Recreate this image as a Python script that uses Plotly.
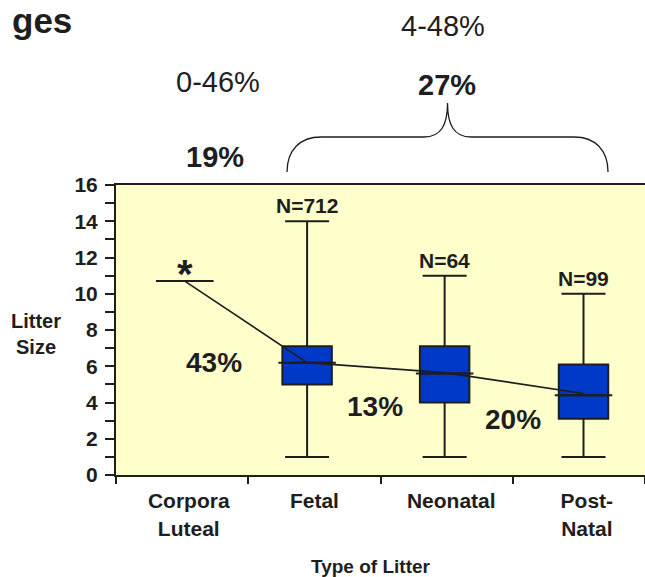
import plotly.graph_objects as go

# ---------------- data ----------------
categories = ["Corpora<br>Luteal", "Fetal", "Neonatal", "Post-<br>Natal"]
box_names = ["Fetal", "Neonatal", "Post-Natal"]
whisker_low = [1, 1, 1]
q1 = [5.0, 4.0, 3.1]
median = [6.2, 5.6, 4.4]
q3 = [7.1, 7.1, 6.1]
whisker_high = [14, 11, 10]
n_labels = ["N=712", "N=64", "N=99"]
corpora_luteal = 10.7
mean_trend = [10.7, 6.2, 5.65, 4.5]
step_pct = ["43%", "13%", "20%"]
range_labels = ["0-46%", "4-48%"]
avg_labels = ["19%", "27%"]
y_ticks = list(range(0, 17))

# ---------------- style / layout ----------------
W, H = 645, 577
ML, MT, MB, MR = 116, 185, 102, 0
PW, PH = W - ML - MR, H - MT - MB
DARK = "#1e1e1e"
BLUE = "#0038C8"
BG = "#FFFFCC"
FONT = "Liberation Sans"

x_nudge = [0.02, -0.055, -0.015, 0.035]
label_nudge = [0.05, 0.0, 0.035, 0.06]
cat_x = [i + 0.5 + x_nudge[i] for i in range(len(categories))]
box_x = cat_x[1:]
BOX_W, CAP_W, MED_W, CL_W = 0.374, 0.333, 0.435, 0.436


def px2paper(px, py):
    return (px - ML) / PW, (H - MB - py) / PH


fig = go.Figure()

fig.add_trace(go.Box(
    x=box_x, q1=q1, median=median, q3=q3,
    lowerfence=whisker_low, upperfence=whisker_high,
    width=BOX_W, fillcolor=BLUE, line=dict(color=DARK, width=2),
    whiskerwidth=0, boxpoints=False, showlegend=False, name="",
    hoverinfo="skip",
))

# whisker caps and extended median lines
seg_x, seg_y = [], []
for bx, lo, hi, md in zip(box_x, whisker_low, whisker_high, median):
    for val, w in ((lo, CAP_W), (hi, CAP_W), (md, MED_W)):
        seg_x += [bx - w / 2, bx + w / 2, None]
        seg_y += [val, val, None]
# corpora luteal line
seg_x += [cat_x[0] - CL_W / 2, cat_x[0] + CL_W / 2, None]
seg_y += [corpora_luteal, corpora_luteal, None]
fig.add_trace(go.Scatter(x=seg_x, y=seg_y, mode="lines",
                         line=dict(color=DARK, width=2), showlegend=False,
                         hoverinfo="skip"))

# trend line
fig.add_trace(go.Scatter(x=cat_x, y=mean_trend, mode="lines",
                         line=dict(color=DARK, width=1.6), showlegend=False,
                         hoverinfo="skip"))

ann = []
bold = dict(family=FONT, color=DARK, weight="bold")
C = dict(showarrow=False, xanchor="center", yanchor="middle")
# N labels
for bx, hi, lab in zip(box_x, whisker_high, n_labels):
    ann.append(dict(C, x=bx, y=hi, xref="x", yref="y", text=lab,
                    yanchor="bottom", yshift=2, font=dict(bold, size=21)))
# star
ann.append(dict(C, x=cat_x[0], y=corpora_luteal, xref="x", yref="y", text="*",
                yshift=7, font=dict(bold, size=40)))
# step percentages
for (px, py), lab in zip([(214, 362), (374.7, 406.7), (513, 419.5)], step_pct):
    ax, ay = px2paper(px, py)
    ann.append(dict(C, x=ax, y=ay, xref="paper", yref="paper", text=lab,
                    font=dict(bold, size=28)))
# top labels
for (px, py), lab in zip([(217.5, 82), (442.5, 26)], range_labels):
    ax, ay = px2paper(px, py)
    ann.append(dict(C, x=ax, y=ay, xref="paper", yref="paper", text=lab,
                    font=dict(family=FONT, color=DARK, size=29)))
for (px, py), lab in zip([(215, 157), (446.5, 85)], avg_labels):
    ax, ay = px2paper(px, py)
    ann.append(dict(C, x=ax, y=ay, xref="paper", yref="paper", text=lab,
                    font=dict(bold, size=29)))
# y axis title
ax, ay = px2paper(36, 334)
ann.append(dict(C, x=ax, y=ay, xref="paper", yref="paper", text="Litter<br>Size",
                font=dict(bold, size=20)))
# x axis title
ax, ay = px2paper(371, 566)
ann.append(dict(C, x=ax, y=ay, xref="paper", yref="paper", text="Type of Litter",
                font=dict(bold, size=19)))
# slide title (only its end is visible in the reference)
ax, ay = px2paper(73, 0)
ann.append(dict(C, x=ax, y=ay, xref="paper", yref="paper", text="ges",
                xanchor="right", yanchor="top", borderpad=0,
                font=dict(bold, size=35)))

# brace
def P(px, py):
    a, b = px2paper(px, py)
    return f"{a:.4f},{b:.4f}"

brace = ("M " + P(287, 172) + " C " + P(287, 150) + " " + P(300, 137) + " " + P(321, 137)
         + " L " + P(424, 137) + " C " + P(441, 137) + " " + P(447.5, 125) + " " + P(447.5, 103)
         + " C " + P(447.5, 125) + " " + P(454, 137) + " " + P(471, 137)
         + " L " + P(574, 137) + " C " + P(595, 137) + " " + P(608, 150) + " " + P(608, 172))

fig.update_layout(
    width=W, height=H,
    margin=dict(l=ML, r=MR, t=MT, b=MB, pad=0),
    paper_bgcolor="white", plot_bgcolor=BG,
    showlegend=False,
    annotations=ann,
    shapes=[dict(type="path", path=brace, xref="paper", yref="paper",
                 line=dict(color=DARK, width=1.3))],
)
fig.update_xaxes(
    range=[0, 4], showgrid=False, zeroline=False,
    tickmode="array",
    tickvals=[i + 0.5 + label_nudge[i] for i in range(len(categories))],
    ticktext=categories, ticks="", ticklabelstandoff=6,
    tickfont=dict(bold, size=21),
    showline=True, linecolor=DARK, linewidth=2, mirror=True,
    minor=dict(tickmode="array", tickvals=list(range(len(categories) + 1)),
               ticks="outside", ticklen=7, tickwidth=2, tickcolor=DARK),
)
fig.update_yaxes(
    range=[0, 16], showgrid=False, zeroline=False,
    tickmode="array", tickvals=y_ticks,
    ticktext=[str(v) if v % 2 == 0 else "" for v in y_ticks],
    ticks="outside", ticklen=9, tickwidth=1.5, tickcolor=DARK,
    ticklabelstandoff=3,
    tickfont=dict(bold, size=21),
    showline=True, linecolor=DARK, linewidth=2, mirror=False,
)

fig.write_html(
    "out.html",
    config={"displayModeBar": False},
    post_script="document.body.style.margin='0';document.body.style.overflow='hidden';",
)
